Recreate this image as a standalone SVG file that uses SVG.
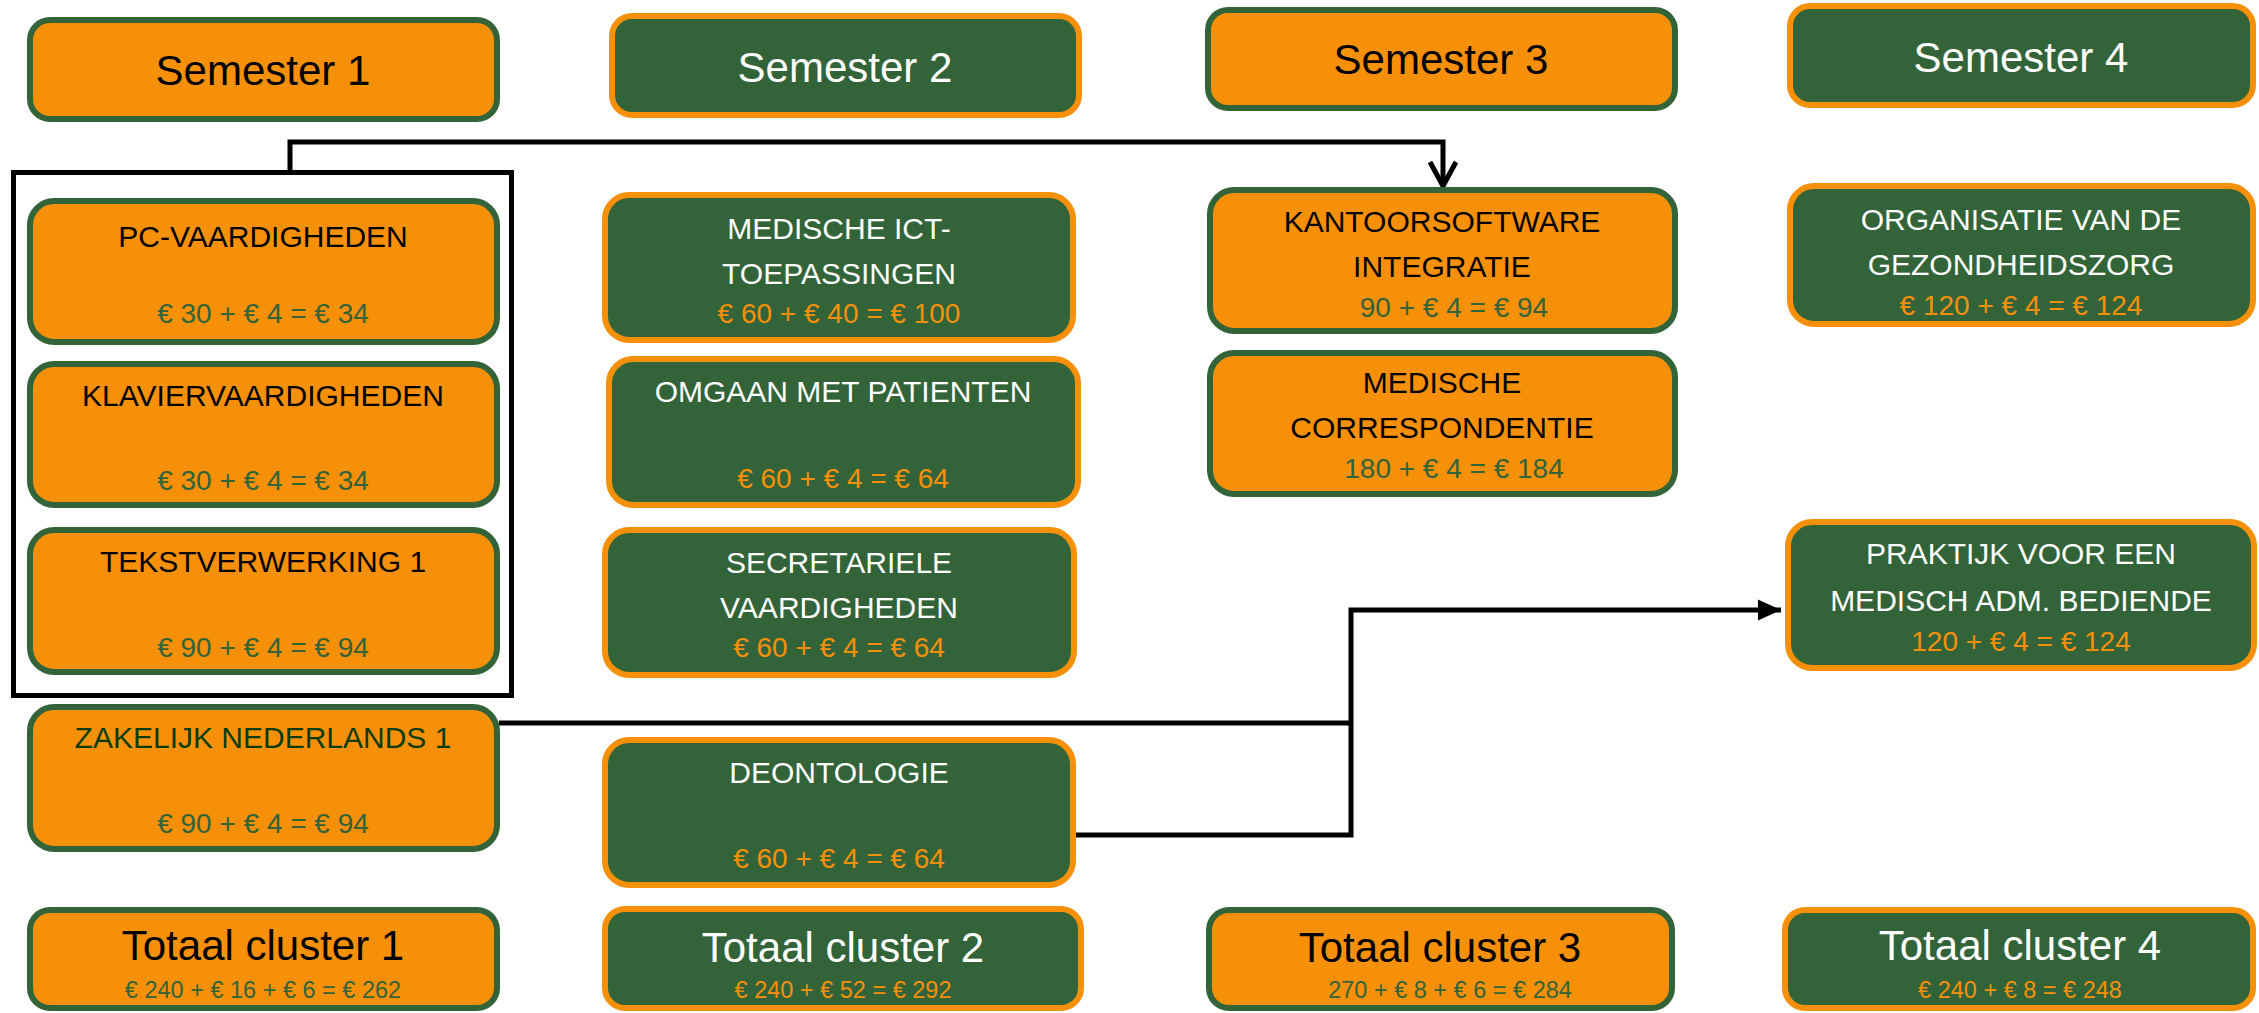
<svg xmlns="http://www.w3.org/2000/svg" width="2259" height="1013" viewBox="0 0 2259 1013">
<style>
.o{fill:#F79009;stroke:#336338;stroke-width:6}
.g{fill:#336338;stroke:#F79009;stroke-width:6}
text{font-family:"Liberation Sans",Arial,sans-serif;text-anchor:middle}
.h{font-size:42px}
.t{font-size:30px}
.p{font-size:28px}
.s{font-size:23.5px}
.ko{fill:#000}
.kg{fill:#fff}
.po{fill:#336338}
.pg{fill:#F79009}
.dz{fill:#0A3D0E}
.c{fill:none;stroke:#000;stroke-width:5}
</style>
<defs>
<marker id="av" markerUnits="userSpaceOnUse" markerWidth="40" markerHeight="40" viewBox="-30 -20 34 40" refX="0" refY="0" orient="auto" overflow="visible">
<path d="M-24,-13 L0,0 L-24,13" fill="none" stroke="#000" stroke-width="5"/>
</marker>
<marker id="af" markerUnits="userSpaceOnUse" markerWidth="30" markerHeight="30" viewBox="-24 -12 26 24" refX="0" refY="0" orient="auto" overflow="visible">
<path d="M-20,-9 L0,0 L-20,9 Z" fill="#000"/>
</marker>
</defs>
<rect id="cluster1-frame" x="13.5" y="172.5" width="498" height="523" fill="none" stroke="#000" stroke-width="5"/>
<g id="connectors">
<path class="c" d="M290,172 V142 H1443 V186" marker-end="url(#av)"/>
<path class="c" d="M499,723 H1353"/>
<path class="c" d="M1076,835 H1351 V610 H1781" marker-end="url(#af)"/>
</g>
<g id="sem1"><rect class="o" x="30" y="20" width="467" height="99" rx="20"/><text class="h ko" x="263" y="85">Semester 1</text></g>
<g id="pc"><rect class="o" x="30" y="201" width="467" height="141" rx="24"/><text class="t ko" x="263" y="247">PC-VAARDIGHEDEN</text><text class="p po" x="263" y="323">€ 30 + € 4 = € 34</text></g>
<g id="klavier"><rect class="o" x="30" y="364" width="467" height="141" rx="24"/><text class="t ko" x="263" y="406">KLAVIERVAARDIGHEDEN</text><text class="p po" x="263" y="490">€ 30 + € 4 = € 34</text></g>
<g id="tekst"><rect class="o" x="30" y="530" width="467" height="142" rx="24"/><text class="t ko" x="263" y="572">TEKSTVERWERKING 1</text><text class="p po" x="263" y="657">€ 90 + € 4 = € 94</text></g>
<g id="zakelijk"><rect class="o" x="30" y="707" width="467" height="142" rx="24"/><text class="t dz" x="263" y="748">ZAKELIJK NEDERLANDS 1</text><text class="p po" x="263" y="833">€ 90 + € 4 = € 94</text></g>
<g id="tot1"><rect class="o" x="30" y="910" width="467" height="98" rx="20"/><text class="h ko" x="263" y="960">Totaal cluster 1</text><text class="s po" x="263" y="998">€ 240 + € 16 + € 6 = € 262</text></g>
<g id="sem2"><rect class="g" x="612" y="16" width="467" height="99" rx="20"/><text class="h kg" x="845" y="82">Semester 2</text></g>
<g id="medict"><rect class="g" x="605" y="195" width="468" height="145" rx="24"/><text class="t kg" x="839" y="239">MEDISCHE ICT-</text><text class="t kg" x="839" y="284">TOEPASSINGEN</text><text class="p pg" x="839" y="323">€ 60 + € 40 = € 100</text></g>
<g id="omgaan"><rect class="g" x="609" y="359" width="469" height="146" rx="24"/><text class="t kg" x="843" y="402">OMGAAN MET PATIENTEN</text><text class="p pg" x="843" y="488">€ 60 + € 4 = € 64</text></g>
<g id="secretariele"><rect class="g" x="605" y="530" width="469" height="145" rx="24"/><text class="t kg" x="839" y="573">SECRETARIELE</text><text class="t kg" x="839" y="618">VAARDIGHEDEN</text><text class="p pg" x="839" y="657">€ 60 + € 4 = € 64</text></g>
<g id="deontologie"><rect class="g" x="605" y="740" width="468" height="145" rx="24"/><text class="t kg" x="839" y="783">DEONTOLOGIE</text><text class="p pg" x="839" y="868">€ 60 + € 4 = € 64</text></g>
<g id="tot2"><rect class="g" x="605" y="909" width="476" height="99" rx="20"/><text class="h kg" x="843" y="962">Totaal cluster 2</text><text class="s pg" x="843" y="998">€ 240 + € 52 = € 292</text></g>
<g id="sem3"><rect class="o" x="1208" y="10" width="467" height="98" rx="20"/><text class="h ko" x="1441" y="74">Semester 3</text></g>
<g id="kantoor"><rect class="o" x="1210" y="190" width="465" height="141" rx="24"/><text class="t ko" x="1442" y="232">KANTOORSOFTWARE</text><text class="t ko" x="1442" y="277">INTEGRATIE</text><text class="p po" x="1454" y="317">90 + € 4 = € 94</text></g>
<g id="medcorr"><rect class="o" x="1210" y="353" width="465" height="141" rx="24"/><text class="t ko" x="1442" y="393">MEDISCHE</text><text class="t ko" x="1442" y="438">CORRESPONDENTIE</text><text class="p po" x="1454" y="478">180 + € 4 = € 184</text></g>
<g id="tot3"><rect class="o" x="1209" y="910" width="463" height="98" rx="20"/><text class="h ko" x="1440" y="962">Totaal cluster 3</text><text class="s po" x="1450" y="998">270 + € 8 + € 6 = € 284</text></g>
<g id="sem4"><rect class="g" x="1790" y="6" width="463" height="99" rx="20"/><text class="h kg" x="2021" y="72">Semester 4</text></g>
<g id="organisatie"><rect class="g" x="1790" y="186" width="463" height="138" rx="24"/><text class="t kg" x="2021" y="230">ORGANISATIE VAN DE</text><text class="t kg" x="2021" y="275">GEZONDHEIDSZORG</text><text class="p pg" x="2021" y="315">€ 120 + € 4 = € 124</text></g>
<g id="praktijk"><rect class="g" x="1788" y="522" width="466" height="146" rx="24"/><text class="t kg" x="2021" y="564">PRAKTIJK VOOR EEN</text><text class="t kg" x="2021" y="611">MEDISCH ADM. BEDIENDE</text><text class="p pg" x="2021" y="651">120 + € 4 = € 124</text></g>
<g id="tot4"><rect class="g" x="1785" y="910" width="468" height="98" rx="20"/><text class="h kg" x="2020" y="960">Totaal cluster 4</text><text class="s pg" x="2020" y="998">€ 240 + € 8 = € 248</text></g>
</svg>
